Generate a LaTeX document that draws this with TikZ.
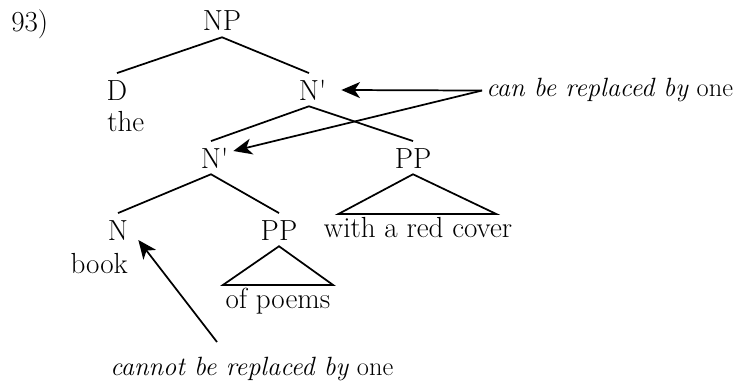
\documentclass[tikz,border=0pt]{standalone}
\usepackage{tikz}
\usetikzlibrary{arrows.meta}
\tikzstyle{cat} = [
    inner sep=0pt, text height=20pt, text depth=4.5pt,
    anchor=base]
\tikzstyle{leaf} = [
    inner sep=0pt, text height=17pt, text depth=4.5pt,
    anchor=base]
\tikzstyle{word} = [
    inner sep=0pt]
\tikzstyle{note} = [
    inner xsep=3pt, inner ysep=0pt,
    font=\fontsize{19.8}{24}\selectfont]
\tikzstyle{branch} = [line width=1.3pt]
\tikzstyle{arrow} = [line width=1.3pt, -{Stealth[length=14pt, width=12pt, inset=4pt]}]
\newcommand{\nbarlabel}{N\rlap{\textquotesingle}}

\begin{document}
\begin{tikzpicture}[x=0.75pt, y=-0.75pt, every node/.style={font=\fontsize{21.8}{26}\selectfont}]
  \useasboundingbox (0,0) rectangle (739,385);

  \node (num) [word, anchor=base west] at (11,32) {93)};

  % tree
  \node (np) [cat] at (222,31) {NP};
  \node (d) [cat] at (117,100) {D};
  \node (the) [word, anchor=base west] at (107,132) {the};
  \node (nbar1) [cat] at (309,100) {\nbarlabel};
  \node (nbar2) [cat] at (211,168) {\nbarlabel};
  \node (pp2) [cat] at (413,168) {PP};
  \node (cover) [leaf] at (418,237) {with a red cover};
  \node (n) [cat] at (118,240) {N};
  \node (book) [word, anchor=base east] at (128,273) {book};
  \node (pp1) [cat] at (279,240) {PP};
  \node (poems) [leaf, inner xsep=2pt] at (278,308) {of poems};

  \draw [branch] (d.north) -- (np.south) -- (nbar1.north);
  \draw [branch] (nbar2.north) -- (nbar1.south) -- (pp2.north);
  \draw [branch] (n.north) -- (nbar2.south) -- (pp1.north);
  \draw [branch] (pp1.south) -- (poems.north west) -- (poems.north east) -- cycle;
  \draw [branch] (pp2.south) -- ([xshift=11pt]cover.north west)
      -- ([xshift=-12pt]cover.north east) -- cycle;

  % notes
  \node (can) [note, anchor=base west] at (482,97)
      {\textit{can be replaced by} one};
  \node (cannot) [note, inner xsep=0pt, anchor=base west] at (110,375)
      {\textit{cannot be replaced by} one};

  \draw [arrow] (can.west) -- ([shift={(22,-10)}]nbar1.base east);
  \draw [arrow] (can.west) -- ([shift={(12,-17)}]nbar2.base east);
  \draw [arrow] ([shift={(107,-33)}]cannot.base west) -- ([shift={(10,0)}]n.base east);

\end{tikzpicture}
\end{document}
